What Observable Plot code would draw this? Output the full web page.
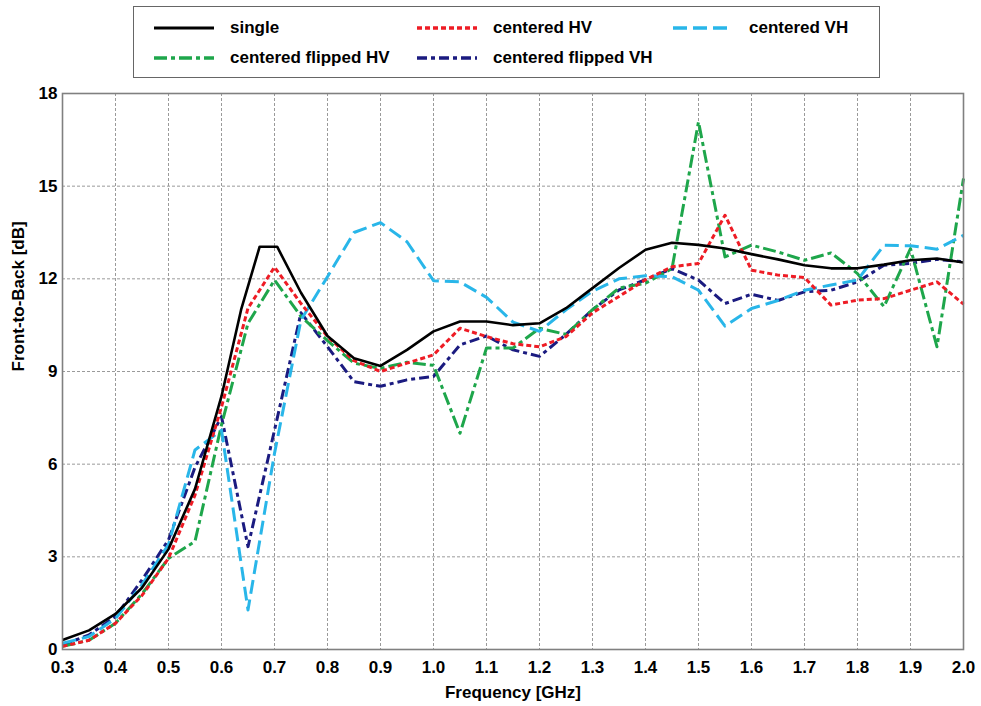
<!DOCTYPE html>
<html><head><meta charset="utf-8">
<script src="https://cdn.jsdelivr.net/npm/d3@7"></script>
<script src="https://cdn.jsdelivr.net/npm/@observablehq/plot@0.6"></script>
<style>
body{margin:0;background:#fff;font-family:"Liberation Sans",Arial,sans-serif;}
#wrap{position:relative;width:981px;height:706px;overflow:hidden;}
#legend{position:absolute;left:133px;top:6px;width:745px;height:70px;border:1.5px solid #666;background:#fff;}
.item{position:absolute;display:flex;align-items:center;font-weight:bold;font-size:17px;color:#000;white-space:nowrap;}
.item svg{margin-right:16px;}
#chart{position:absolute;left:0;top:85px;}
</style>
</head><body>
<div id="wrap">
  <div id="legend"></div>
  <div id="chart"></div>
</div>
<script>
// ---- data ----
const freq = [0.3,0.35,0.4,0.45,0.5,0.55,0.6,0.65,0.7,0.75,0.8,0.85,0.9,0.95,1.0,1.05,1.1,1.15,1.2,1.25,1.3,1.35,1.4,1.45,1.5,1.55,1.6,1.65,1.7,1.75,1.8,1.85,1.9,1.95,2.0];
const singleFreq = [0.3,0.35,0.4,0.45,0.5,0.55,0.6,0.637,0.672,0.705,0.75,0.8,0.85,0.9,0.95,1.0,1.05,1.1,1.15,1.2,1.25,1.3,1.35,1.4,1.45,1.5,1.55,1.6,1.65,1.7,1.75,1.8,1.85,1.9,1.95,2.0];
const single = [0.31,0.62,1.15,2.0,3.25,5.2,8.2,11.0,13.04,13.04,11.55,10.15,9.43,9.18,9.7,10.3,10.62,10.62,10.5,10.56,11.05,11.7,12.35,12.94,13.17,13.1,12.98,12.8,12.63,12.44,12.34,12.34,12.46,12.6,12.66,12.53];
const centeredHV = [0.1,0.3,0.85,1.75,2.95,5.0,7.85,11.05,12.38,11.2,10.13,9.35,9.0,9.27,9.54,10.4,10.13,9.9,9.8,10.13,10.9,11.43,11.97,12.39,12.5,14.06,12.28,12.12,12.04,11.15,11.31,11.36,11.63,11.9,11.18];
const centeredVH = [0.2,0.42,1.0,2.1,3.4,6.46,7.1,1.28,6.35,10.67,12.07,13.5,13.82,13.2,11.94,11.9,11.4,10.6,10.3,11.0,11.6,12.0,12.1,12.07,11.63,10.47,11.04,11.3,11.63,11.8,11.96,13.09,13.07,12.96,13.41];
const centeredFlippedHV = [0.1,0.3,0.85,1.8,2.95,3.5,7.27,10.56,11.96,10.78,10.0,9.27,9.1,9.3,9.2,7.0,9.76,9.76,10.4,10.2,11.0,11.7,11.86,12.33,17.08,12.71,13.09,12.87,12.6,12.84,12.17,11.1,12.98,9.8,15.25];
const centeredFlippedVH = [0.15,0.47,1.07,2.25,3.55,5.9,7.54,3.33,7.1,10.9,9.8,8.67,8.52,8.73,8.84,9.86,10.15,9.7,9.49,10.2,11.0,11.64,11.97,12.33,11.96,11.2,11.5,11.3,11.58,11.63,11.9,12.44,12.5,12.63,12.55];
const xTicks = [0.3,0.4,0.5,0.6,0.7,0.8,0.9,1.0,1.1,1.2,1.3,1.4,1.5,1.6,1.7,1.8,1.9,2.0];
const yTicks = [0,3,6,9,12,15,18];

const series = [
  {name:"single", x:singleFreq, y:single, color:"#000000", dash:null, width:2.6},
  {name:"centered HV", x:freq, y:centeredHV, color:"#ee1c25", dash:"5,3", width:3},
  {name:"centered VH", x:freq, y:centeredVH, color:"#29b6e9", dash:"14,6", width:3},
  {name:"centered flipped HV", x:freq, y:centeredFlippedHV, color:"#1ea64b", dash:"13,4,4,4", width:3},
  {name:"centered flipped VH", x:freq, y:centeredFlippedVH, color:"#1b1b80", dash:"10,4,4,4", width:3}
];

// ---- legend ----
const legendPos = [[20,21],[283,21],[539,21],[20,51],[283,51]];
const legend = document.getElementById("legend");
series.forEach((s,i)=>{
  const d = document.createElement("div");
  d.className = "item";
  d.style.left = legendPos[i][0] + "px";
  d.style.top = (legendPos[i][1] - 11) + "px";
  d.innerHTML = `<svg width="60" height="22"><line x1="0" x2="60" y1="11" y2="11" stroke="${s.color}" stroke-width="${s.width+0.5}" ${s.dash?`stroke-dasharray="${s.dash}"`:""}/></svg><span>${s.name}</span>`;
  legend.appendChild(d);
});

// ---- chart ----
const lineMarks = series.map(s => Plot.line(s.x.map((x,i)=>({x, y:s.y[i]})), {
  x:"x", y:"y", stroke:s.color, strokeWidth:s.width,
  strokeDasharray: s.dash || undefined, strokeLinejoin:"round", strokeLinecap:"butt"
}));

const chart = Plot.plot({
  width: 981, height: 621,
  marginTop: 8, marginBottom: 57, marginLeft: 62, marginRight: 18,
  style: {fontFamily:"'Liberation Sans', Arial, sans-serif", fontSize:"17px", fontWeight:"bold", color:"#000", background:"#fff"},
  x: {domain:[0.3,2.0]},
  y: {domain:[0,18]},
  marks: [
    Plot.gridX(xTicks, {stroke:"#9a9a9a", strokeOpacity:1, strokeDasharray:"3,2"}),
    Plot.gridY(yTicks, {stroke:"#9a9a9a", strokeOpacity:1, strokeDasharray:"3,2"}),
    ...lineMarks.slice(1).reverse(),
    lineMarks[0],
    Plot.frame({stroke:"#808080", strokeWidth:1.6}),
    Plot.axisX(xTicks, {tickSize:0, tickPadding:11, tickFormat:d3.format(".1f"), label:null}),
    Plot.axisY(yTicks, {tickSize:0, tickPadding:5, label:null}),
    Plot.text(["Frequency [GHz]"], {frameAnchor:"bottom", dy:48, fontSize:17, fontWeight:"bold"}),
    Plot.text(["Front-to-Back [dB]"], {frameAnchor:"left", dx:-44, rotate:-90, fontSize:17, fontWeight:"bold"})
  ]
});
document.getElementById("chart").appendChild(chart);
</script>
</body></html>
